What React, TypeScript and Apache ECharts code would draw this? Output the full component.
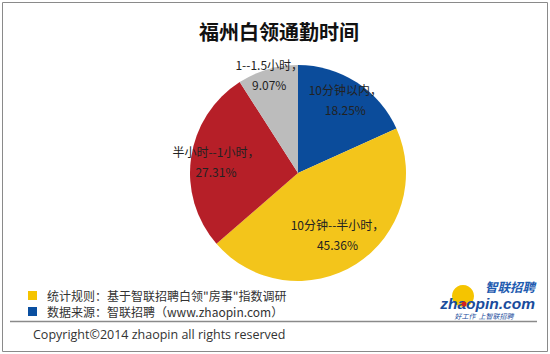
import React, { useEffect, useRef } from "react";
import * as echarts from "echarts";

const titleText = "福州白领通勤时间";
const categories = ["10分钟以内", "10分钟--半小时", "半小时--1小时", "1--1.5小时"];
const values = [18.25, 45.36, 27.31, 9.07];
const colors = ["#0b4c9b", "#f3c51b", "#b61f28", "#bcbcbc"];
const labelRadiusFactors = [0.78, 0.65, 0.74, 0.92];
const notes = ["统计规则：基于智联招聘白领\"房事\"指数调研", "数据来源：智联招聘（www.zhaopin.com）"];
const noteColors = ["#f5c400", "#0a4fa0"];
const copyright = "Copyright©2014 zhaopin all rights reserved";

const CX = 298;
const CY = 173;
const R = 108;

export default function App() {
  const ref = useRef<HTMLDivElement>(null);
  useEffect(() => {
    document.body.style.margin = "0";
    const chart = echarts.init(ref.current!, null, { renderer: "svg" });
    const total = values.reduce((a, b) => a + b, 0);
    let acc = 0;
    const data = values.map((v, i) => {
      const mid = 90 - ((acc + v / 2) / total) * 360;
      acc += v;
      const rad = (mid * Math.PI) / 180;
      const d = (labelRadiusFactors[i] - 0.5) * R;
      return {
        name: categories[i],
        value: v,
        itemStyle: { color: colors[i] },
        label: { offset: [d * Math.cos(rad), -d * Math.sin(rad)] },
      };
    });
    const font = "'Noto Sans CJK SC', sans-serif";
    chart.setOption({
      animation: false,
      title: {
        text: titleText,
        left: 274,
        textAlign: "center",
        top: 16,
        textStyle: { fontSize: 20, fontWeight: "bold", color: "#111", fontFamily: font },
      },
      series: [
        {
          type: "pie",
          center: [CX, CY],
          radius: R,
          startAngle: 90,
          clockwise: true,
          data,
          label: {
            show: true,
            position: "inside",
            formatter: (p: any) => `${p.name}，\n${p.value.toFixed(2)}%`,
            fontSize: 12,
            lineHeight: 20,
            color: "#222",
            fontFamily: font,
          },
          labelLine: { show: false },
          emphasis: { disabled: true },
        },
      ],
      graphic: [
        {
          type: "rect",
          shape: { x: 2.5, y: 2.5, width: 545, height: 349 },
          style: { fill: "none", stroke: "#8a8a8a", lineWidth: 1 },
        },
        {
          type: "line",
          shape: { x1: 10, y1: 321.5, x2: 537, y2: 321.5 },
          style: { stroke: "#8a8a8a", lineWidth: 1.5 },
        },
        ...notes.flatMap((t, i) => [
          {
            type: "rect",
            shape: { x: 28, y: 291 + i * 16, width: 9, height: 9 },
            style: { fill: noteColors[i] },
          },
          {
            type: "text",
            x: 47,
            y: 295.5 + i * 16,
            style: {
              text: t,
              fontSize: 12,
              lineHeight: 14,
              fill: "#333",
              fontFamily: font,
              verticalAlign: "middle",
            },
          },
        ]),
        {
          type: "text",
          x: 33,
          y: 334,
          style: {
            text: copyright,
            fontSize: 12.5,
            fill: "#333",
            fontFamily: "'Open Sans', sans-serif",
            verticalAlign: "middle",
          },
        },
        // logo
        { type: "circle", shape: { cx: 463, cy: 296, r: 11 }, style: { fill: "#f5c400" } },
        {
          type: "text",
          x: 535,
          y: 286,
          style: {
            text: "智联招聘",
            fontSize: 12.5,
            lineHeight: 13,
            fontStyle: "italic",
            fontWeight: "bold",
            fill: "#1e5bb0",
            fontFamily: font,
            align: "right",
            verticalAlign: "middle",
          },
        },
        {
          type: "text",
          x: 535,
          y: 303.5,
          style: {
            text: "zhaopin.com",
            fontSize: 15.5,
            lineHeight: 13,
            fontStyle: "italic",
            fontWeight: "bold",
            fill: "#1a4c9c",
            fontFamily: "'Liberation Sans', Arial, sans-serif",
            align: "right",
            verticalAlign: "middle",
          },
        },
        { type: "circle", shape: { cx: 464, cy: 304, r: 2.5 }, style: { fill: "#d42020" } },
        {
          type: "text",
          x: 484,
          y: 315.5,
          style: {
            text: "好工作  上智联招聘",
            fontSize: 7,
            lineHeight: 8,
            fontStyle: "italic",
            fill: "#1a4c9c",
            fontFamily: font,
            align: "center",
            verticalAlign: "middle",
          },
        },
      ],
    });
    return () => chart.dispose();
  }, []);
  return <div ref={ref} style={{ width: 550, height: 354, background: "#fff" }} />;
}
